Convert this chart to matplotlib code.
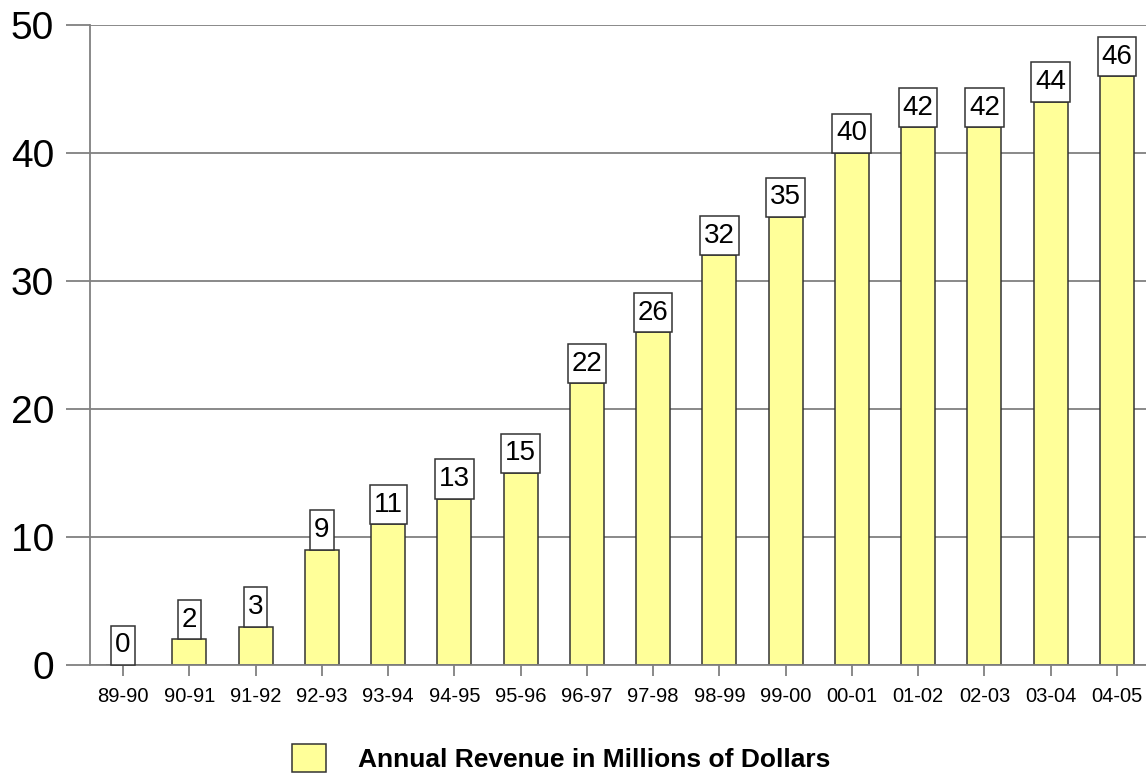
import matplotlib

matplotlib.use("Agg")

import matplotlib.pyplot as plt
from matplotlib.path import Path

YEARS = ["89-90", "90-91", "91-92", "92-93", "93-94", "94-95", "95-96", "96-97",
         "97-98", "98-99", "99-00", "00-01", "01-02", "02-03", "03-04", "04-05"]
REVENUE = [0, 2, 3, 9, 11, 13, 15, 22, 26, 32, 35, 40, 42, 42, 44, 46]
Y_TICKS = [0, 10, 20, 30, 40, 50]
SERIES_LABEL = "Annual Revenue in Millions of Dollars"

BAR_FILL, BAR_EDGE, GRID = "#ffff99", "#333333", "#808080"
LABEL_SIZE = 20
PAD_X, PAD_Y = 0.14, 0.24  # box padding, as fractions of the label font size

plt.rcParams["font.family"] = ["Liberation Sans", "DejaVu Sans"]


def value_box(x0, y0, width, height, mutation_size):
    """Square box with more room above and below the digits than beside them."""
    px, py = PAD_X * mutation_size, PAD_Y * mutation_size
    x0, x1 = x0 - px, x0 + width + px
    y0, y1 = y0 - py, y0 + height + py
    return Path([(x0, y0), (x1, y0), (x1, y1), (x0, y1), (x0, y0)], closed=True)


fig = plt.figure(figsize=(11.46, 7.77), dpi=100, facecolor="white")
W, H = 1146, 777
# axes run slightly past the right edge, so the last bar sits against it
ax = fig.add_axes([90 / W, (H - 665) / H, 1060 / W, 640 / H])

x = range(len(YEARS))
bars = ax.bar(x, REVENUE, width=0.51, color=BAR_FILL, edgecolor=BAR_EDGE,
              linewidth=1.1, label=SERIES_LABEL, zorder=3)

for xi, value in zip(x, REVENUE):
    ax.annotate(str(value), (xi, value), xytext=(0, PAD_Y * LABEL_SIZE),
                textcoords="offset points", ha="center", va="bottom",
                fontsize=LABEL_SIZE, color="black", zorder=4,
                bbox=dict(boxstyle=value_box, facecolor="white",
                          edgecolor=BAR_EDGE, linewidth=1.1))

ax.set_xlim(-0.5, 15.5)
ax.set_ylim(0, 50)
ax.set_yticks(Y_TICKS)
ax.set_xticks(list(x), YEARS)
ax.yaxis.grid(True, color=GRID, linewidth=1.3, zorder=0)
ax.set_axisbelow(True)

ax.tick_params(axis="y", length=17, width=1.3, color=GRID, labelsize=28, pad=9)
ax.tick_params(axis="x", length=8, width=1.3, color=GRID, labelsize=14.5, pad=8)

for side in ("top", "right"):
    ax.spines[side].set_visible(False)
for side in ("left", "bottom"):
    ax.spines[side].set_color(GRID)
    ax.spines[side].set_linewidth(1.3)
ax.spines["bottom"].set_zorder(3.5)

fig.legend(handles=[bars], labels=[SERIES_LABEL], loc="center left",
           bbox_to_anchor=(292 / W, 1 - 758 / H), frameon=False,
           prop={"size": 19, "weight": "bold"}, handlelength=1.29,
           handleheight=1.29, handletextpad=1.21, borderpad=0,
           borderaxespad=0)

fig.savefig("out.png", dpi=100, facecolor="white")
